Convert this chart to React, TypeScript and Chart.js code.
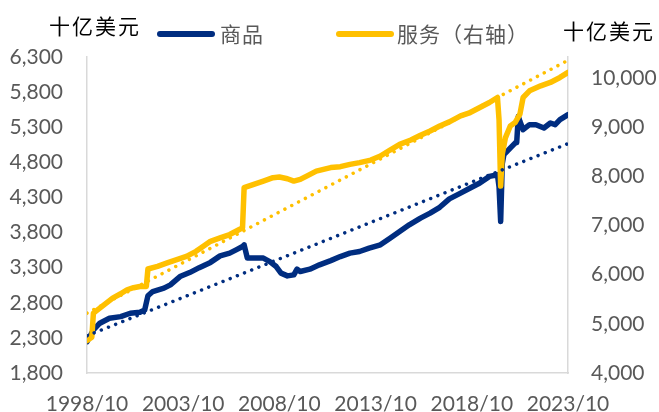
import React, { useEffect, useRef } from "react";
import { Chart, registerables } from "chart.js";

Chart.register(...registerables);

// ---------- data ----------
const xTickLabels = ["1998/10", "2003/10", "2008/10", "2013/10", "2018/10", "2023/10"];
const leftTickValues = [1800, 2300, 2800, 3300, 3800, 4300, 4800, 5300, 5800, 6300];
const rightTickValues = [4000, 5000, 6000, 7000, 8000, 9000, 10000];

const goodsDates = [
  "1998/10", "1999/02", "1999/06", "1999/12", "2000/07", "2001/01", "2001/07", "2001/10",
  "2001/12", "2002/03", "2002/10", "2003/02", "2003/08", "2004/02", "2004/08", "2005/03",
  "2005/09", "2006/03", "2006/07", "2006/11", "2006/12", "2007/02", "2007/08", "2007/12",
  "2008/04", "2008/08", "2008/11", "2009/03", "2009/07", "2009/09", "2009/11", "2010/05",
  "2010/11", "2011/06", "2011/12", "2012/06", "2012/12", "2013/06", "2014/01", "2014/07",
  "2015/01", "2015/07", "2016/02", "2016/08", "2017/02", "2017/08", "2018/03", "2018/09",
  "2019/03", "2019/09", "2020/02", "2020/03", "2020/04", "2020/05", "2020/06", "2020/08",
  "2020/11", "2021/01", "2021/02", "2021/03", "2021/04", "2021/06", "2021/10", "2022/02",
  "2022/07", "2022/11", "2023/02", "2023/05", "2023/10",
];
const goodsValues = [
  2246, 2413, 2509, 2580, 2603, 2651, 2666, 2698,
  2900, 2960, 3008, 3055, 3173, 3230, 3300, 3375,
  3468, 3507, 3554, 3601, 3625, 3436, 3436, 3436,
  3387, 3316, 3222, 3183, 3197, 3280, 3245, 3279,
  3340, 3400, 3458, 3507, 3530, 3578, 3625, 3720,
  3815, 3910, 4006, 4077, 4160, 4280, 4362, 4434,
  4505, 4600, 4624, 4450, 3958, 4780, 4909, 4956,
  5027, 5075, 5080, 5455, 5384, 5265, 5336, 5336,
  5289, 5360, 5336, 5408, 5479,
];

const servicesDates = [
  "1998/10", "1999/01", "1999/02", "1999/06", "1999/10", "2000/02", "2000/07", "2000/11",
  "2001/03", "2001/07", "2001/11", "2001/12", "2002/06", "2002/12", "2003/06", "2003/12",
  "2004/06", "2004/09", "2005/03", "2005/09", "2006/03", "2006/09", "2006/11", "2006/12",
  "2007/06", "2007/12", "2008/06", "2008/10", "2009/03", "2009/07", "2009/11", "2010/03",
  "2010/09", "2011/06", "2011/12", "2012/06", "2012/12", "2013/07", "2014/01", "2014/07",
  "2015/01", "2015/08", "2016/02", "2016/08", "2017/02", "2017/08", "2018/03", "2018/09",
  "2019/03", "2019/09", "2020/02", "2020/03", "2020/04", "2020/05", "2020/07", "2020/10",
  "2021/01", "2021/04", "2021/06", "2021/10", "2022/05", "2022/11", "2023/05", "2023/10",
];
const servicesValues = [
  4659, 4729, 5219, 5320, 5423, 5525, 5612, 5694,
  5735, 5761, 5761, 6116, 6170, 6239, 6306, 6374,
  6476, 6545, 6680, 6749, 6817, 6919, 6953, 7770,
  7837, 7905, 7974, 7987, 7953, 7905, 7939, 8007,
  8109, 8180, 8198, 8245, 8280, 8333, 8415, 8537,
  8653, 8741, 8837, 8925, 9027, 9110, 9231, 9300,
  9402, 9504, 9606, 9150, 7803, 8449, 8790, 9027,
  9096, 9266, 9606, 9741, 9844, 9912, 10014, 10117,
];

const goodsTrendDates = ["1998/10", "2023/10"];
const goodsTrendValues = [2330, 5066];
const servicesTrendDates = ["1998/10", "2023/10"];
const servicesTrendValues = [5218, 10362];

const seriesLabels = ["商品", "服务（右轴）"];
const axisTitle = "十亿美元";

// ---------- helpers ----------
const BLUE = "#002D80";
const GOLD = "#FFC000";
const TICK_COLOR = "#595959";
const AXIS_COLOR = "#D9D9D9";

function monthIndex(s: string): number {
  const [y, m] = s.split("/").map(Number);
  return (y - 1998) * 12 + (m - 10);
}

function toPoints(dates: string[], values: number[]) {
  return dates.map((d, i) => ({ x: monthIndex(d), y: values[i] }));
}

const overlayPlugin = {
  id: "overlayTexts",
  afterDraw(chart: any) {
    const ctx = chart.ctx as CanvasRenderingContext2D;
    ctx.save();
    ctx.textBaseline = "middle";
    ctx.textAlign = "left";
    // axis titles
    ctx.fillStyle = "#000000";
    ctx.font = '21px "Noto Sans CJK SC"';
    (ctx as any).letterSpacing = "2px";
    ctx.fillText(axisTitle, 49, 26);
    ctx.fillText(axisTitle, 563, 31);
    // legend
    const items = [
      { color: BLUE, x0: 160, x1: 212, text: seriesLabels[0], tx: 220 },
      { color: GOLD, x0: 339, x1: 391, text: seriesLabels[1], tx: 397 },
    ];
    (ctx as any).letterSpacing = "1px";
    ctx.font = '21px "Noto Sans CJK SC"';
    for (const it of items) {
      ctx.strokeStyle = it.color;
      ctx.lineWidth = 6;
      ctx.lineCap = "round";
      ctx.beginPath();
      ctx.moveTo(it.x0, 34);
      ctx.lineTo(it.x1, 34);
      ctx.stroke();
      ctx.fillStyle = TICK_COLOR;
      ctx.fillText(it.text, it.tx, 34);
    }
    ctx.restore();
  },
};

export default function App() {
  const canvasRef = useRef<HTMLCanvasElement | null>(null);

  useEffect(() => {
    const canvas = canvasRef.current;
    if (!canvas) return;
    const tickFont = { family: "Lato", size: 21 };
    const chart = new Chart(canvas, {
      type: "line",
      data: {
        datasets: [
          {
            label: seriesLabels[0],
            data: toPoints(goodsDates, goodsValues),
            yAxisID: "y",
            borderColor: BLUE,
            backgroundColor: BLUE,
            borderWidth: 5.5,
            pointRadius: 0,
            borderJoinStyle: "round",
            borderCapStyle: "round",
            tension: 0,
            order: 4,
          },
          {
            label: seriesLabels[1],
            data: toPoints(servicesDates, servicesValues),
            yAxisID: "y1",
            borderColor: GOLD,
            backgroundColor: GOLD,
            borderWidth: 5.5,
            pointRadius: 0,
            borderJoinStyle: "round",
            borderCapStyle: "round",
            tension: 0,
            order: 3,
          },
          {
            label: "goodsTrend",
            data: toPoints(goodsTrendDates, goodsTrendValues),
            yAxisID: "y",
            borderColor: BLUE,
            borderWidth: 3.5,
            borderDash: [0.01, 7.7],
            borderCapStyle: "round",
            pointRadius: 0,
            order: 2,
          },
          {
            label: "servicesTrend",
            data: toPoints(servicesTrendDates, servicesTrendValues),
            yAxisID: "y1",
            borderColor: GOLD,
            borderWidth: 3.5,
            borderDash: [0.01, 7.7],
            borderCapStyle: "round",
            pointRadius: 0,
            order: 1,
          },
        ],
      },
      options: {
        animation: false,
        responsive: true,
        maintainAspectRatio: false,
        layout: { padding: { top: 57, left: 0, right: 0, bottom: 0 } },
        plugins: {
          legend: { display: false },
          tooltip: { enabled: false },
        },
        scales: {
          x: {
            type: "linear",
            min: 0,
            max: 300,
            grid: { display: false, drawTicks: false },
            border: { display: true, color: AXIS_COLOR, width: 1.5 },
            ticks: {
              autoSkip: false,
              maxRotation: 0,
              padding: 19,
              color: TICK_COLOR,
              font: tickFont,
              callback: (v: any) => {
                const i = Math.round(Number(v) / 60);
                return xTickLabels[i] ?? "";
              },
            },
            afterBuildTicks: (s: any) => {
              s.ticks = xTickLabels.map((_, i) => ({ value: i * 60 }));
            },
            afterFit: (s: any) => {
              s.height = 39;
            },
          },
          y: {
            type: "linear",
            position: "left",
            min: 1800,
            max: 6300,
            grid: { display: false, drawTicks: false },
            border: { display: true, color: AXIS_COLOR, width: 1.5 },
            ticks: {
              autoSkip: false,
              padding: 24,
              color: TICK_COLOR,
              font: tickFont,
              callback: (v: any) => Number(v).toLocaleString("en-US"),
            },
            afterBuildTicks: (s: any) => {
              s.ticks = leftTickValues.map((v) => ({ value: v }));
            },
            afterFit: (s: any) => {
              s.width = 87;
            },
          },
          y1: {
            type: "linear",
            position: "right",
            min: 4000,
            max: 10430,
            grid: { display: false, drawTicks: false },
            border: { display: true, color: AXIS_COLOR, width: 1.5 },
            ticks: {
              autoSkip: false,
              padding: 23,
              color: TICK_COLOR,
              font: tickFont,
              callback: (v: any) => Number(v).toLocaleString("en-US"),
            },
            afterBuildTicks: (s: any) => {
              s.ticks = rightTickValues.map((v) => ({ value: v }));
            },
            afterFit: (s: any) => {
              s.width = 91;
            },
          },
        },
      },
      plugins: [overlayPlugin],
    } as any);
    return () => chart.destroy();
  }, []);

  return (
    <div
      style={{
        position: "fixed",
        left: 0,
        top: 0,
        width: 659,
        height: 412,
        background: "#ffffff",
      }}
    >
      <canvas ref={canvasRef} />
    </div>
  );
}
